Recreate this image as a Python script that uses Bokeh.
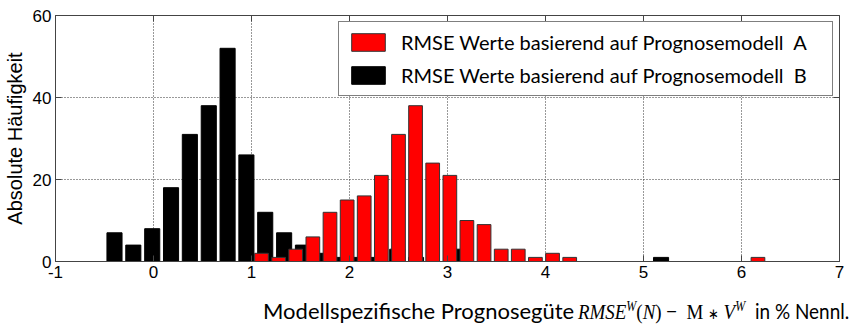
from bokeh.plotting import figure
from bokeh.models import Range1d, FixedTicker, LinearAxis, Legend, LegendItem, Div, ColumnDataSource
from bokeh.layouts import column
from bokeh.embed import file_html
from bokeh.resources import INLINE

# Model B (black) histogram: bin centers and counts (non-empty bins)
b_centers = [-0.398, -0.206, -0.013, 0.179, 0.371, 0.564, 0.756, 0.948, 1.140, 1.333,
             1.525, 1.717, 1.910, 2.102, 2.294, 2.487, 2.679, 3.063, 5.179]
b_counts = [7, 4, 8, 18, 31, 38, 52, 26, 12, 7, 4, 2, 1, 1, 1, 3, 1, 3, 1]

# Model A (red) histogram
a_centers = [1.102, 1.277, 1.451, 1.626, 1.801, 1.976, 2.150, 2.325, 2.500, 2.674,
             2.849, 3.024, 3.198, 3.373, 3.548, 3.722, 3.897, 4.072, 4.247, 6.168]
a_counts = [2, 1, 3, 6, 12, 15, 16, 21, 31, 38, 24, 21, 10, 9, 3, 3, 1, 2, 1, 1]

x_ticks = [-1, 0, 1, 2, 3, 4, 5, 6, 7]
x_tick_labels = ["-1", "0", "1", "2", "3", "4", "5", "6", "7"]
y_ticks = [0, 20, 40, 60]

legend_a = "RMSE Werte basierend auf Prognosemodell  A"
legend_b = "RMSE Werte basierend auf Prognosemodell  B"
y_label = "Absolute Häufigkeit"
x_label_text = "Modellspezifische Prognosegüte"
x_label_unit = "in % Nennl."

p = figure(width=850, height=290, output_backend="svg", toolbar_location=None,
           x_range=Range1d(-1, 7), y_range=Range1d(0, 60),
           min_border_left=53, min_border_right=11, min_border_top=15, min_border_bottom=29)
p.outline_line_color = "#444444"
p.outline_line_width = 1
p.background_fill_color = "white"
p.border_fill_color = "white"

src_b = ColumnDataSource(dict(x=b_centers, top=b_counts))
src_a = ColumnDataSource(dict(x=a_centers, top=a_counts))
rb = p.vbar(x="x", top="top", bottom=0, width=0.154, source=src_b,
            fill_color="black", line_color="black", line_width=1)
ra = p.vbar(x="x", top="top", bottom=0, width=0.14, source=src_a,
            fill_color="#ff0000", line_color="#333333", line_width=1)

for ax in (p.xaxis[0], p.yaxis[0]):
    ax.major_tick_in = 6
    ax.major_tick_out = 0
    ax.minor_tick_in = 0
    ax.minor_tick_out = 0
    ax.axis_line_color = "#444444"
    ax.major_tick_line_color = "#444444"
    ax.major_label_text_font = "Liberation Sans"
    ax.major_label_text_font_size = "17px"
    ax.major_label_text_color = "black"

p.xaxis[0].ticker = FixedTicker(ticks=x_ticks)
p.xaxis[0].major_label_overrides = {t: s for t, s in zip(x_ticks, x_tick_labels)}
p.xaxis[0].major_label_standoff = 4
p.yaxis[0].ticker = FixedTicker(ticks=y_ticks)
p.yaxis[0].major_label_standoff = 4
p.yaxis[0].axis_label = y_label
p.yaxis[0].axis_label_text_font = "Liberation Sans"
p.yaxis[0].axis_label_text_font_size = "20px"
p.yaxis[0].axis_label_text_font_style = "normal"
p.yaxis[0].axis_label_text_color = "black"
p.yaxis[0].axis_label_standoff = 4

# box ticks on top and right
top_ax = LinearAxis(ticker=FixedTicker(ticks=x_ticks), major_tick_in=6, major_tick_out=0,
                    minor_tick_in=0, minor_tick_out=0, major_label_text_font_size="0px",
                    axis_line_color=None, major_tick_line_color="#444444", major_label_standoff=0)
right_ax = LinearAxis(ticker=FixedTicker(ticks=y_ticks), major_tick_in=6, major_tick_out=0,
                      minor_tick_in=0, minor_tick_out=0, major_label_text_font_size="0px",
                      axis_line_color=None, major_tick_line_color="#444444", major_label_standoff=0)
p.add_layout(top_ax, "above")
p.add_layout(right_ax, "right")

p.xgrid.ticker = FixedTicker(ticks=x_ticks)
p.ygrid.ticker = FixedTicker(ticks=y_ticks)
for g in (p.xgrid[0], p.ygrid[0]):
    g.grid_line_color = "#333333"
    g.grid_line_dash = "1 2"
    g.grid_line_width = 1

legend = Legend(items=[LegendItem(label=legend_a, renderers=[ra]),
                       LegendItem(label=legend_b, renderers=[rb])],
                location="top_right")
legend.margin = 6
legend.padding = 8
legend.spacing = 9
legend.glyph_width = 42
legend.glyph_height = 22
legend.label_height = 22
legend.label_standoff = 12
legend.label_width = 423
legend.label_text_font = "Lato"
legend.label_text_font_size = "20px"
legend.label_text_color = "black"
legend.border_line_color = "black"
legend.border_line_width = 1.5
legend.background_fill_color = "white"
legend.background_fill_alpha = 1
p.add_layout(legend, "center")

sup = "<sup style=\"font-size:14px;line-height:0\"><i>W</i></sup>"
ast = "<span style=\"font-family:'DejaVu Sans';font-size:15px\">&lowast;</span>"
xlabel_html = (
    "<div style=\"position:relative;width:850px;height:41px;color:black\">"
    "<span style=\"position:absolute;left:263px;top:8px;font-family:Lato;font-size:22px;"
    "line-height:26px;white-space:nowrap\">" + x_label_text + "</span>"
    "<span style=\"position:absolute;left:578px;top:9px;font-family:'Liberation Serif';font-size:22px;"
    "line-height:26px;white-space:nowrap;transform:scaleX(0.86);transform-origin:0 0\">"
    "<i>RMSE</i>" + sup + "(<i>N</i>) &minus;&nbsp; M " + ast + " <i>V</i>" + sup + "</span>"
    "<span style=\"position:absolute;left:755px;top:8px;font-family:Lato;font-size:22px;"
    "line-height:26px;white-space:nowrap;transform:scaleX(0.86);transform-origin:0 0\">"
    + x_label_unit + "</span></div>")
div = Div(text=xlabel_html, width=850, height=41, margin=(0, 0, 0, 0))

layout = column(p, div, spacing=0)
open("out.html", "w").write(file_html(layout, INLINE))
